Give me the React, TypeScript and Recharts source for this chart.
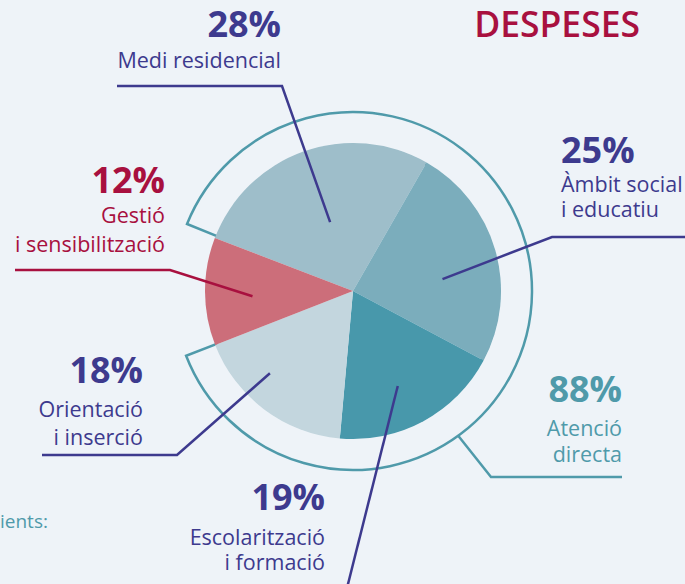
import React from 'react';
import { PieChart, Pie, Cell } from 'recharts';

// ---- data ----
const CATEGORIES = ['Medi residencial', 'Àmbit social\ni educatiu', 'Escolarització\ni formació', 'Orientació\ni inserció', 'Gestió\ni sensibilització'];
const SHARES = [28, 25, 19, 18, 12];
const RING_CATEGORIES = ['Atenció\ndirecta', 'resta'];
const RING_SHARES = [88, 12];
const TITLE = 'DESPESES';
const FOOTNOTE = 'ients:';

// ---- styles / layout ----
const W = 685;
const H = 584;
const CX = 353;
const CY = 291;
const R = 148;
const RING_R = 179;
const FONT = '"Open Sans", "Noto Sans", sans-serif';
const BG = '#eef3f8';
const PURPLE = '#3d3a8e';
const CRIMSON = '#a8103f';
const TEAL = '#4f9aaa';
const SLICE_COLORS = ['#9ebeca', '#7badbc', '#4898ab', '#c3d6de', '#cc6e7a'];
const LABEL_COLORS = [PURPLE, PURPLE, PURPLE, PURPLE, CRIMSON];

type Layout = {
  angleOffset: number;
  radiusFrac: number;
  path: [number, number][];
  textX: number;
  anchor: 'start' | 'end';
  ys: number[];
};

const LAYOUT: Layout[] = [
  { angleOffset: -1.2, radiusFrac: 0.49, path: [[282, 86], [117, 86]], textX: 281, anchor: 'end', ys: [37, 68] },
  { angleOffset: -8.5, radiusFrac: 0.61, path: [[552, 237], [690, 237]], textX: 561, anchor: 'start', ys: [163, 192, 217] },
  { angleOffset: -3.2, radiusFrac: 0.71, path: [[346, 592]], textX: 325, anchor: 'end', ys: [510, 545, 570] },
  { angleOffset: -8.4, radiusFrac: 0.79, path: [[177, 455], [42, 455]], textX: 143, anchor: 'end', ys: [383, 417, 445] },
  { angleOffset: 2.8, radiusFrac: 0.68, path: [[170, 270], [15, 270]], textX: 165, anchor: 'end', ys: [193, 223, 252] },
];

const RING_LAYOUT: Layout = {
  angleOffset: -53.6, radiusFrac: 1.0, path: [[491, 477], [622, 477]], textX: 622, anchor: 'end', ys: [402, 436, 462],
};

const mainData = CATEGORIES.map((name, i) => ({ name, value: SHARES[i] }));
const ringData = RING_CATEGORIES.map((name, i) => ({ name, value: RING_SHARES[i] }));

const RAD = Math.PI / 180;

function renderCallout(props: any, layout: Layout, color: string, name: string, value: number, lineWidth: number) {
  const cx = props.cx ?? CX;
  const cy = props.cy ?? CY;
  const outer = props.outerRadius ?? R;
  const ang = (props.midAngle ?? 0) + layout.angleOffset;
  const r = outer * layout.radiusFrac;
  const sx = cx + r * Math.cos(-ang * RAD);
  const sy = cy + r * Math.sin(-ang * RAD);
  const pts = [[sx, sy], ...layout.path].map((p) => p.join(',')).join(' ');
  const lines = name.split('\n');
  return (
    <g>
      <polyline points={pts} fill="none" stroke={color} strokeWidth={lineWidth} strokeLinejoin="miter" />
      <text textAnchor={layout.anchor} fill={color} fontFamily={FONT}>
        <tspan x={layout.textX} y={layout.ys[0]} fontWeight={700} fontSize={36}>
          {`${value}%`}
        </tspan>
        {lines.map((ln, k) => (
          <tspan key={k} x={layout.textX} y={layout.ys[k + 1]} fontWeight={400} fontSize={21.5}>
            {ln}
          </tspan>
        ))}
      </text>
    </g>
  );
}

const mainLabel = (props: any) => {
  const i = props.index;
  return renderCallout(props, LAYOUT[i], LABEL_COLORS[i], CATEGORIES[i], SHARES[i], 2.5);
};

const ringLabel = (props: any) => {
  if (props.index !== 0) return <g />;
  return renderCallout(props, RING_LAYOUT, TEAL, RING_CATEGORIES[0], RING_SHARES[0], 2.5);
};

export default function App() {
  return (
    <div style={{ position: 'absolute', left: 0, top: 0, width: W, height: H, background: BG, overflow: 'hidden' }}>
      <PieChart width={W} height={H} margin={{ top: 0, right: 0, bottom: 0, left: 0 }}>
        <Pie
          data={ringData}
          dataKey="value"
          cx={CX}
          cy={CY}
          innerRadius={R - 2}
          outerRadius={RING_R}
          startAngle={158}
          endAngle={-202}
          isAnimationActive={false}
          label={ringLabel}
          labelLine={false}
        >
          {ringData.map((d, i) => (
            <Cell key={d.name} fill="none" stroke={i === 0 ? TEAL : 'none'} strokeWidth={2.5} />
          ))}
        </Pie>
        <Pie
          data={mainData}
          dataKey="value"
          cx={CX}
          cy={CY}
          innerRadius={0}
          outerRadius={R}
          startAngle={159}
          endAngle={-201}
          stroke="none"
          isAnimationActive={false}
          label={mainLabel}
          labelLine={false}
        >
          {mainData.map((d, i) => (
            <Cell key={d.name} fill={SLICE_COLORS[i]} stroke="none" />
          ))}
        </Pie>
        <text x={640} y={37} textAnchor="end" fill={CRIMSON} fontFamily={FONT} fontWeight={600} fontSize={35.5}>
          {TITLE}
        </text>
        <text x={0} y={528} textAnchor="start" fill={TEAL} fontFamily={FONT} fontWeight={400} fontSize={19}>
          {FOOTNOTE}
        </text>
      </PieChart>
    </div>
  );
}
